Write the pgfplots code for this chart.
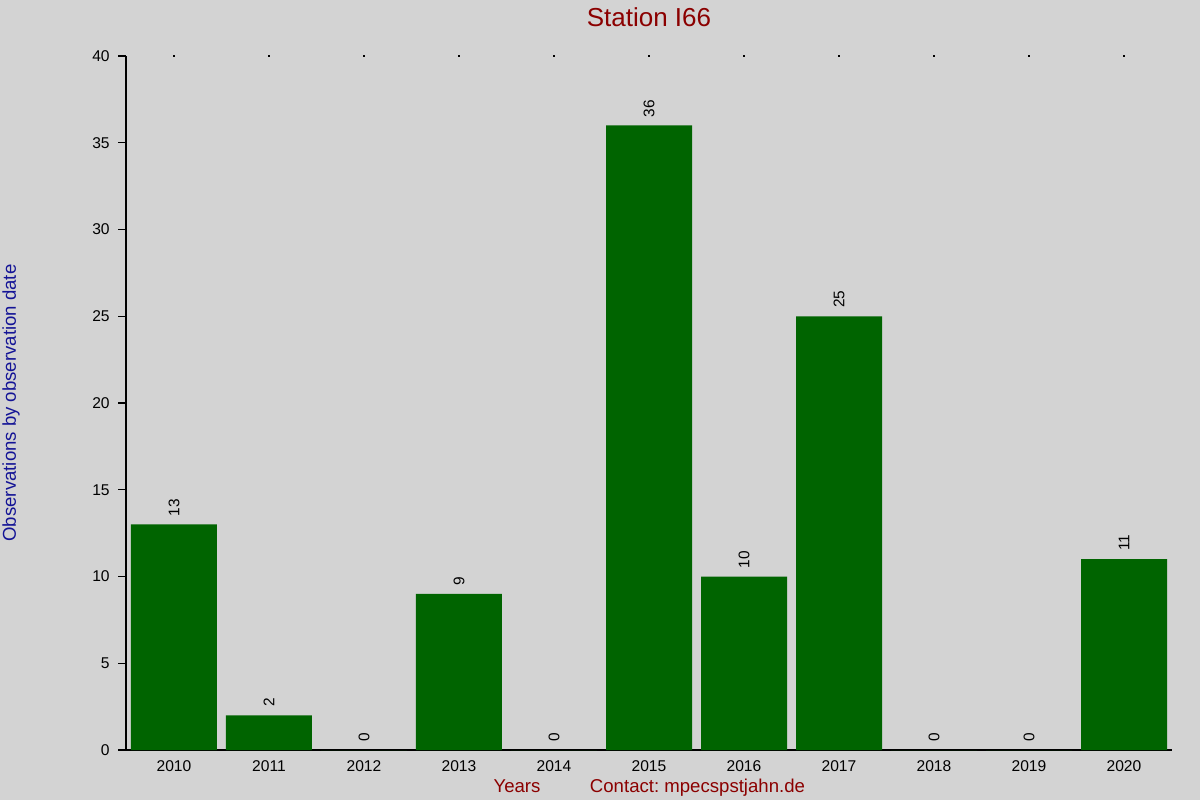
\documentclass[border=0pt]{standalone}
\usepackage{fontspec}
\setmainfont{Liberation Sans}
\usepackage{pgfplots}
\pgfplotsset{compat=1.18}
\definecolor{bg}{RGB}{211,211,211}
\definecolor{bargreen}{RGB}{0,100,0}
\definecolor{dred}{RGB}{139,0,0}
\definecolor{dblue}{RGB}{20,20,150}
\frenchspacing
\begin{document}
\begin{tikzpicture}[x=1pt,y=1pt]
\fill[bg] (0,0) rectangle (600,400);
\path[use as bounding box] (0,0) rectangle (600,400);
\begin{axis}[
    at={(63pt,25pt)}, anchor=south west,
    scale only axis, width=523pt, height=347pt,
    axis lines=left,
    axis line style={-, line width=0.6pt, black},
    x axis line style={shorten <=-4pt},
    xmin=2009.495, xmax=2020.505,
    ymin=0, ymax=40,
    xtick={2010,...,2020},
    ytick={0,5,...,40},
    xtick style={draw=none},
    ytick style={line width=0.6pt, black},
    tick align=outside,
    major tick length=4pt,
    /pgf/number format/assume math mode=true,
    /pgf/number format/1000 sep={},
    xticklabel style={font=\fontsize{7.8}{9}\selectfont, inner sep=0pt, yshift=-1.2pt},
    yticklabel style={font=\fontsize{7.8}{9}\selectfont, inner sep=0pt, xshift=-4pt},
    clip=false,
]
% observations per year
\addplot[ybar, bar width=43pt, fill=bargreen, draw=none,
    nodes near coords,
    every node near coord/.append style={font=\fontsize{7.7}{9}\selectfont,
        rotate=90, anchor=west, inner xsep=4pt, inner ysep=0pt, black}] coordinates {
    (2010,13) (2011,2) (2012,0) (2013,9) (2014,0) (2015,36)
    (2016,10) (2017,25) (2018,0) (2019,0) (2020,11)};
% small top tick dots
\addplot[only marks, mark=square*, mark size=0.22pt, black] coordinates {
    (2010,40) (2011,40) (2012,40) (2013,40) (2014,40) (2015,40)
    (2016,40) (2017,40) (2018,40) (2019,40) (2020,40)};
\end{axis}
\node[font=\fontsize{13}{15}\selectfont, text=dred, anchor=base] at (324.5,386.5) {Station I66};
\node[font=\fontsize{9.3}{11}\selectfont, text=dblue, rotate=90, anchor=center] at (5.5,198.5) {Observations by observation date};
\node[font=\fontsize{9.3}{11}\selectfont, text=dred, anchor=base] at (258.5,4) {Years};
\node[font=\fontsize{9.3}{11}\selectfont, text=dred, anchor=base] at (348.75,4) {Contact: mpecspstjahn.de};
\end{tikzpicture}
\end{document}
